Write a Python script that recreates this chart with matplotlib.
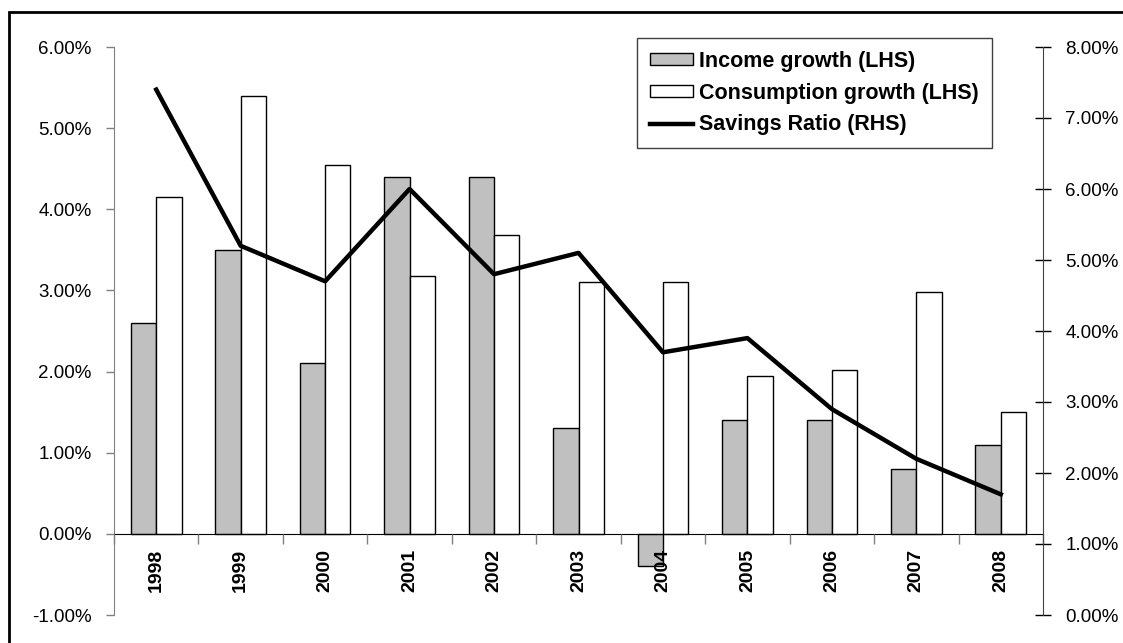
import numpy as np
import matplotlib.pyplot as plt
from matplotlib.patches import Rectangle
from matplotlib.ticker import FuncFormatter, FixedLocator

plt.rcParams['font.family'] = ['Liberation Sans', 'DejaVu Sans']

# ---- data ----
years = ["1998", "1999", "2000", "2001", "2002", "2003", "2004", "2005", "2006", "2007", "2008"]
income_growth = [2.6, 3.5, 2.1, 4.4, 4.4, 1.3, -0.4, 1.4, 1.4, 0.8, 1.1]
consumption_growth = [4.15, 5.4, 4.55, 3.18, 3.68, 3.1, 3.1, 1.95, 2.02, 2.98, 1.5]
savings_ratio = [7.4, 5.2, 4.7, 6.0, 4.8, 5.1, 3.7, 3.9, 2.9, 2.2, 1.7]

x = np.arange(len(years))
w = 0.3

fig = plt.figure(figsize=(11.23, 6.43), dpi=100)
ax = fig.add_axes([114/1123, 1 - 615/643, (1043 - 114)/1123, (615 - 47)/643])
ax.set_axisbelow(False)  # year labels sit on top of the bars, as in the original

# outer frame round the chart
fig.patches.append(Rectangle((9/1123, -0.05), 1.2, 1 - 12/643 + 0.05, transform=fig.transFigure,
                             fill=False, edgecolor="black", linewidth=2))

ax.bar(x - w/2, income_growth, w, color="#c0c0c0", edgecolor="black", linewidth=1,
       label="Income growth (LHS)", zorder=2)
ax.bar(x + w/2, consumption_growth, w, color="white", edgecolor="black", linewidth=1,
       label="Consumption growth (LHS)", zorder=2)

ax.set_xlim(-0.5, len(years) - 0.5)
ax.set_ylim(-1, 6)
ax.set_yticks(np.arange(-1, 7, 1))
ax.yaxis.set_major_formatter(FuncFormatter(lambda v, p: f"{v:.2f}%"))
ax.tick_params(axis="y", direction="out", length=6, width=1, color="#808080", pad=10, labelsize=13.5)

ax.spines["bottom"].set_position(("data", 0))
ax.spines["top"].set_visible(False)
ax.spines["right"].set_visible(False)
ax.spines["left"].set_color("#808080")

# savings ratio on the right axis
ax2 = ax.twinx()
ax2.plot(x, savings_ratio, color="black", linewidth=3.2, label="Savings Ratio (RHS)", zorder=3)
ax2.set_ylim(0, 8)
ax2.set_yticks(np.arange(0, 9, 1))
ax2.yaxis.set_major_formatter(FuncFormatter(lambda v, p: f"{v:.2f}%"))
ax2.tick_params(axis="y", direction="inout", length=12, width=1, pad=10, labelsize=13.5)
for s in ["top", "bottom", "left"]:
    ax2.spines[s].set_visible(False)
ax2.spines["right"].set_color("#404040")

# category labels at centres, tick marks between categories
ax.xaxis.set_minor_locator(FixedLocator(np.arange(-0.5, len(years), 1)))
ax.tick_params(axis="x", which="minor", direction="out", length=7, width=1, color="#808080")
ax.tick_params(axis="x", which="major", length=0, pad=11, labelrotation=90, labelsize=14)
ax.set_xticks(x)
ax.set_xticklabels(years)
for lab in ax.get_xticklabels():
    lab.set_fontweight("bold")

# ---- legend ----
h1, l1 = ax.get_legend_handles_labels()
h2, l2 = ax2.get_legend_handles_labels()
leg = ax2.legend(h1 + h2, l1 + l2, loc="upper right", bbox_to_anchor=(0.945, 1.016),
                 borderaxespad=0, fancybox=False, framealpha=1, edgecolor="#404040",
                 prop={"weight": "bold", "size": 15.5}, handlelength=2.0, handleheight=0.45,
                 handletextpad=0.3, labelspacing=0.5, borderpad=0.6)
leg.get_frame().set_linewidth(1)

fig.savefig("out.png", dpi=100)
